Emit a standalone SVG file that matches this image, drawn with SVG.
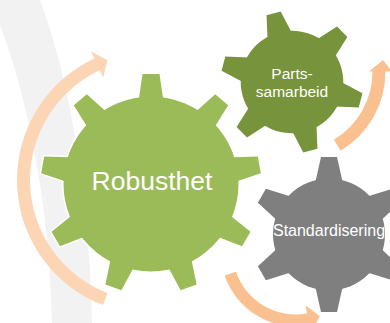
<svg xmlns="http://www.w3.org/2000/svg" xmlns:xlink="http://www.w3.org/1999/xlink" width="390" height="323" viewBox="0 0 390 323">
  <style>
    .ol { fill: #FFFFFF; stroke: #FFFFFF; stroke-width: 3; stroke-linejoin: miter; }
    .lbl { font-family: "Liberation Sans", Arial, sans-serif; fill: #FFFFFF; text-anchor: middle; }
    .arrowLight { fill: #FCD5B5; }
    .arrow { fill: #FAC090; }
  </style>
  <defs>
    <path id="t9" d="M-8.5,-110 L8.5,-110 L12,-86 L-12,-86 Z"/>
    <g id="g9">
      <circle r="87.5"/>
      <use href="#t9"/>
      <use href="#t9" transform="rotate(40)"/>
      <use href="#t9" transform="rotate(80)"/>
      <use href="#t9" transform="rotate(120)"/>
      <use href="#t9" transform="rotate(160)"/>
      <use href="#t9" transform="rotate(200)"/>
      <use href="#t9" transform="rotate(240)"/>
      <use href="#t9" transform="rotate(280)"/>
      <use href="#t9" transform="rotate(320)"/>
    </g>
    <path id="t6" d="M-8,-77.5 L8,-77.5 L13.5,-53 L-13.5,-53 Z"/>
    <g id="g6">
      <circle r="56"/>
      <use href="#t6"/>
      <use href="#t6" transform="rotate(60)"/>
      <use href="#t6" transform="rotate(120)"/>
      <use href="#t6" transform="rotate(180)"/>
      <use href="#t6" transform="rotate(240)"/>
      <use href="#t6" transform="rotate(300)"/>
    </g>
  </defs>

  <rect width="390" height="323" fill="#FFFFFF"/>
  <path id="band" d="M0,0 L40,0 C70,80 90,200 92,323 L52,323 C50,200 25,90 0,25 Z" fill="#F2F2F2"/>

  <g id="connectors">
    <path class="arrowLight" d="M107.64,292.96 L102.98,305.10 A134,134 0 0 1 94.37,58.55 L90.99,51.30 L107.39,60.19 L103.24,77.59 L99.86,70.34 A121,121 0 0 0 107.64,292.96 Z"/>
    <path class="arrow" d="M333.95,139.65 L340.64,150.79 A92.5,92.5 0 0 0 385.5,71.5 L392,71.5 L383,60 L369,71.5 L372.5,71.5 A79.5,79.5 0 0 1 333.95,139.65 Z"/>
    <path class="arrow" d="M235.96,271.67 L224.61,275.58 A75.5,75.5 0 0 0 309.11,325.35 L310.59,333.72 L319.8,316.3 L305.55,305.16 L307.03,313.54 A63.5,63.5 0 0 1 235.96,271.67 Z"/>
  </g>

  <g id="node-robusthet">
    <g transform="translate(151,184)">
      <use href="#g9" class="ol"/>
      <use href="#g9" fill="#9BBB59"/>
    </g>
    <text class="lbl" x="152" y="190" font-size="26.5">Robusthet</text>
  </g>

  <g id="node-parts">
    <g transform="translate(292,82) rotate(-15) scale(0.916)">
      <use href="#g6" class="ol"/>
      <use href="#g6" fill="#77933C"/>
    </g>
    <text class="lbl" x="292" y="79" font-size="15.5">Parts-</text>
    <text class="lbl" x="292" y="97" font-size="15.5">samarbeid</text>
  </g>

  <g id="node-standardisering">
    <g transform="translate(329,234.5)">
      <use href="#g6" class="ol"/>
      <use href="#g6" fill="#7F7F7F"/>
    </g>
    <text class="lbl" x="329" y="236" font-size="16">Standardisering</text>
  </g>
</svg>
